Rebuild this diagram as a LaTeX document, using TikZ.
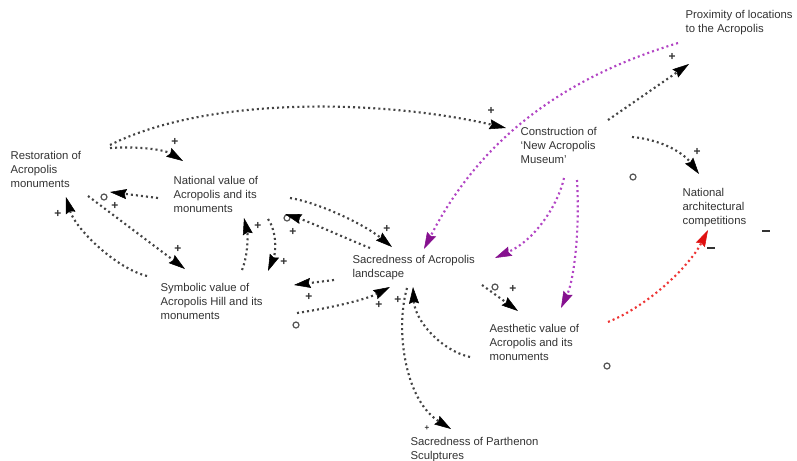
\documentclass[tikz,border=0pt]{standalone}
\usepackage{fontspec}
\setmainfont{Liberation Sans}
\usetikzlibrary{arrows.meta}
\definecolor{inkgrey}{HTML}{333333}
\definecolor{linkgrey}{HTML}{444444}
\definecolor{markgrey}{HTML}{555555}
\definecolor{museumpurple}{HTML}{B244C4}
\definecolor{headpurple}{HTML}{86108F}
\definecolor{negred}{HTML}{EE3434}
\definecolor{headred}{HTML}{E01010}
\pgfdeclarelayer{paper}
\pgfdeclarelayer{links}
\pgfsetlayers{paper,links,main}
\tikzset{
  conceptbox/.style={anchor=north west, align=left, fill=white, inner sep=1pt,
    text=inkgrey, font=\fontsize{8.5}{10.3}\selectfont},
  cldlink/.style={draw=linkgrey, line width=1.6pt, dash pattern=on 1.5pt off 2.3pt,
    -{Stealth[length=12.5pt,width=7.5pt,inset=1.5pt,line width=0.4pt,color=black]}},
  museumlink/.style={cldlink, draw=museumpurple,
    -{Stealth[length=12.5pt,width=7.5pt,inset=1.5pt,line width=0.4pt,color=headpurple]}},
  neglink/.style={cldlink, draw=negred,
    -{Stealth[length=12.5pt,width=7.5pt,inset=1.5pt,line width=0.4pt,color=headred]}},
  pluslbl/.style={inner sep=0pt, text=inkgrey, font=\fontsize{9}{9}\selectfont\bfseries},
  smallplus/.style={pluslbl, font=\fontsize{6}{6}\selectfont\bfseries},
  zerolbl/.style={circle, draw=markgrey, line width=0.9pt, minimum size=4.5pt, inner sep=0pt},
  minuslbl/.style={rectangle, fill=inkgrey, minimum width=5.5pt, minimum height=1.2pt, inner sep=0pt}
}
\begin{document}
\begin{tikzpicture}[x=0.75pt,y=-0.75pt]
\begin{pgfonlayer}{paper}
  \fill[white] (0,0) rectangle (797,461);
\end{pgfonlayer}
\useasboundingbox (0,0) rectangle (797,461);

% variables of the diagram
\node[conceptbox] (rest) at (9,150) {Restoration of\\Acropolis\\monuments};
\node[conceptbox] (natval) at (172,175) {National value of\\Acropolis and its\\monuments};
\node[conceptbox] (symb) at (159,282) {Symbolic value of\\Acropolis Hill and its\\monuments};
\node[conceptbox] (sacred) at (351,254) {Sacredness of Acropolis\\landscape};
\node[conceptbox] (museum) at (519,126) {Construction of\\`New Acropolis\\Museum'};
\node[conceptbox] (prox) at (684,9) {Proximity of locations\\to the Acropolis};
\node[conceptbox] (natcomp) at (681,187) {National\\architectural\\competitions};
\node[conceptbox] (aesth) at (488,323) {Aesthetic value of\\Acropolis and its\\monuments};
\node[conceptbox] (parth) at (409,436) {Sacredness of Parthenon\\Sculptures};

% end points of the causal links
\coordinate (rest-museum-s) at (110,145);   \coordinate (rest-museum-e) at (506,128);
\coordinate (rest-natval-s) at (110,148);   \coordinate (rest-natval-e) at (183,161);
\coordinate (natval-rest-s) at (158,198);   \coordinate (natval-rest-e) at (110,192);
\coordinate (rest-symb-s) at (88,196);      \coordinate (rest-symb-e) at (185,269);
\coordinate (symb-rest-s) at (147,276);     \coordinate (symb-rest-e) at (66,197);
\coordinate (symb-natval-s) at (242,270);   \coordinate (symb-natval-e) at (244,218);
\coordinate (natval-symb-s) at (268,219);   \coordinate (natval-symb-e) at (268,271);
\coordinate (natval-sacred-s) at (290,198); \coordinate (natval-sacred-e) at (392,247);
\coordinate (sacred-natval-s) at (370,248); \coordinate (sacred-natval-e) at (285,214);
\coordinate (sacred-symb-s) at (334,280);   \coordinate (sacred-symb-e) at (294,285);
\coordinate (symb-sacred-s) at (297,313);   \coordinate (symb-sacred-e) at (390,287);
\coordinate (sacred-parth-s) at (407,288);  \coordinate (sacred-parth-e) at (451,429);
\coordinate (aesth-sacred-s) at (470,357);  \coordinate (aesth-sacred-e) at (413,287);
\coordinate (sacred-aesth-s) at (482,285);  \coordinate (sacred-aesth-e) at (518,311);
\coordinate (prox-sacred-s) at (678,43);    \coordinate (prox-sacred-e) at (424,249);
\coordinate (museum-sacred-s) at (564,178); \coordinate (museum-sacred-e) at (495,258);
\coordinate (museum-aesth-s) at (577,180);  \coordinate (museum-aesth-e) at (561,308);
\coordinate (museum-prox-s) at (608,120);   \coordinate (museum-prox-e) at (689,64);
\coordinate (museum-natcomp-s) at (632,137);\coordinate (museum-natcomp-e) at (699,174);
\coordinate (aesth-natcomp-s) at (608,322); \coordinate (aesth-natcomp-e) at (708,230);

\begin{pgfonlayer}{links}
% link polarities
\node[pluslbl] (p-rest-museum) at (491,111) {+};
\node[pluslbl] (p-rest-natval) at (175,142) {+};
\node[zerolbl] (z-natval-rest) at (104,197) {};
\node[pluslbl] (p-natval-rest) at (115,206) {+};
\node[pluslbl] (p-rest-symb) at (178,249) {+};
\node[pluslbl] (p-symb-rest) at (58,214) {+};
\node[pluslbl] (p-symb-natval) at (258,226) {+};
\node[pluslbl] (p-natval-symb) at (284,262) {+};
\node[pluslbl] (p-natval-sacred) at (387,229) {+};
\node[zerolbl] (z-sacred-natval) at (287,218) {};
\node[pluslbl] (p-sacred-natval) at (293,232) {+};
\node[pluslbl] (p-sacred-symb) at (309,297) {+};
\node[pluslbl] (p-symb-sacred) at (379,305) {+};
\node[zerolbl] (z-symb-sacred) at (296,325) {};
\node[pluslbl] (p-sacred-parth) at (398,300) {+};
\node[smallplus] (q-sacred-parth) at (427,428) {+};
\node[zerolbl] (z-sacred-aesth) at (495,287) {};
\node[pluslbl] (p-sacred-aesth) at (513,289) {+};
\node[pluslbl] (p-museum-prox) at (672,57) {+};
\node[pluslbl] (p-museum-natcomp) at (697,152) {+};
\node[zerolbl] (z-museum-natcomp) at (633,177) {};
\node[minuslbl] (m-aesth-natcomp) at (711,248) {};
\node[minuslbl] (m-natcomp) at (766,231) {};
\node[zerolbl] (z-aesth-natcomp) at (607,366) {};

% causal links
\draw[cldlink] (rest-museum-s) .. controls (210,95) and (385,100) .. (rest-museum-e);
\draw[cldlink] (rest-natval-s) .. controls (140,146) and (165,150) .. (rest-natval-e);
\draw[cldlink] (natval-rest-s) -- (natval-rest-e);
\draw[cldlink] (rest-symb-s) -- (rest-symb-e);
\draw[cldlink] (symb-rest-s) .. controls (115,268) and (75,228) .. (symb-rest-e);
\draw[cldlink] (symb-natval-s) .. controls (248,255) and (248,235) .. (symb-natval-e);
\draw[cldlink] (natval-symb-s) .. controls (277,232) and (276,252) .. (natval-symb-e);
\draw[cldlink] (natval-sacred-s) .. controls (320,203) and (365,225) .. (natval-sacred-e);
\draw[cldlink] (sacred-natval-s) .. controls (345,238) and (310,222) .. (sacred-natval-e);
\draw[cldlink] (sacred-symb-s) -- (sacred-symb-e);
\draw[cldlink] (symb-sacred-s) .. controls (330,308) and (365,300) .. (symb-sacred-e);
\draw[cldlink] (sacred-parth-s) .. controls (395,330) and (405,400) .. (sacred-parth-e);
\draw[cldlink] (aesth-sacred-s) .. controls (440,350) and (415,320) .. (aesth-sacred-e);
\draw[cldlink] (sacred-aesth-s) -- (sacred-aesth-e);
\draw[museumlink] (prox-sacred-s) .. controls (590,70) and (490,120) .. (prox-sacred-e);
\draw[museumlink] (museum-sacred-s) .. controls (558,205) and (535,240) .. (museum-sacred-e);
\draw[museumlink] (museum-aesth-s) .. controls (580,230) and (574,280) .. (museum-aesth-e);
\draw[cldlink] (museum-prox-s) -- (museum-prox-e);
\draw[cldlink] (museum-natcomp-s) .. controls (665,140) and (685,155) .. (museum-natcomp-e);
\draw[neglink] (aesth-natcomp-s) .. controls (650,305) and (690,265) .. (aesth-natcomp-e);
\end{pgfonlayer}
\end{tikzpicture}
\end{document}
